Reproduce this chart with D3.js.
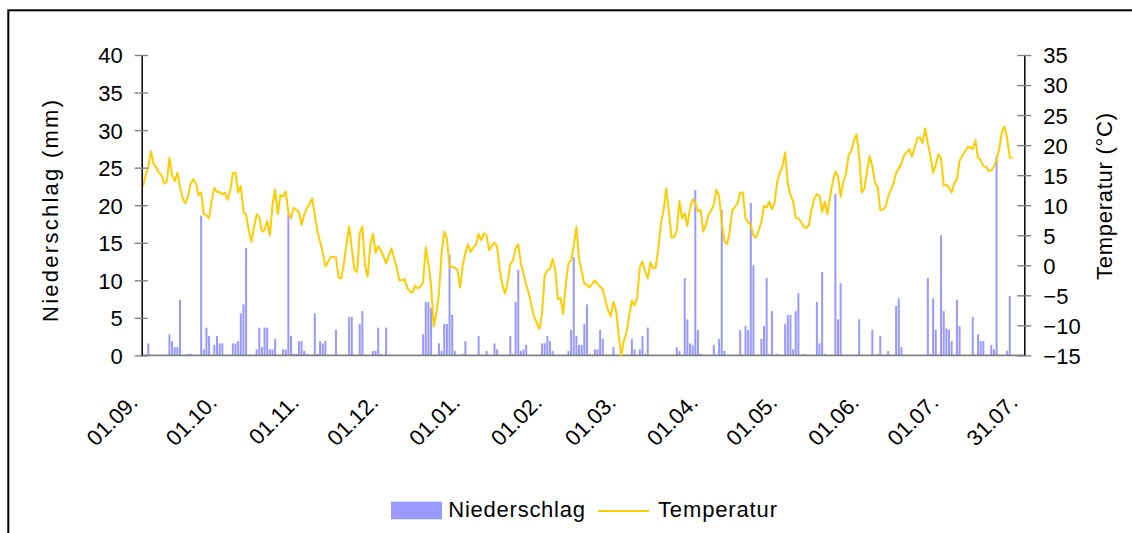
<!DOCTYPE html>
<html>
<head>
  <meta charset="utf-8">
  <script src="https://d3js.org/d3.v7.min.js"></script>
  <style type="text/css">
    body { margin: 0; background: #fff; }
    svg { font-family: "Liberation Sans", Arial, sans-serif; }
  </style>
</head>
<body>
<script type="text/javascript">
  "use strict";

  // daily precipitation (mm), one array per month, from 01.09.
  var rainSep = [0,0,1.6,0,0,0,0,0,0,0, 2.8,1.9,1.1,1.1,7.4,0,0,0.2,0.2,0, 0,0,18.6,0.8,3.7,2.6,0,1.4,2.6,1.6];
  var rainOct = [1.6,0,0,0,1.6,1.6,1.9,5.6,6.8,14.3, 0,0,0,0.8,3.7,1.1,3.7,3.7,0.8,0.8, 2.2,0,0,0.8,0.8,18.8,2.6,0.2,0.2,1.9, 1.9];
  var rainNov = [0.6,0.2,0,0,5.6,0.2,1.9,1.6,1.9, 0,0,0,3.4,0,0,0,0,5.1,5.1, 0,0,4.2,5.9,0,0,0,0.6,0.6,3.7, 0.2];
  var rainDec = [0,3.7,0,0,0,0,0,0,0, 0,0,0,0,0,0,2.8,7.1,7.1,6.3, 0,0,1.6,0.6,4.2,4.2,13.4,5.4,0.6,0, 0,0.2];
  var rainJan = [1.9,0,0,0,0,2.6,0,0, 0.6,0,0,1.6,0.8,0,0,0,0,2.6, 0.2,7.1,11.4,0.6,0.8,1.4,0,0,0,0, 0,1.6,1.6];
  var rainFeb = [2.6,1.9,0.6,0,0,0,0, 0,0.6,3.4,13.1,2.6,1.4,1.4,4.2,6.8,0.2, 0,0.8,0.8,3.4,2.2,0,0,0,1.1,0, 0];
  var rainMar = [0,0,0,0,2.2,0.8,0,0.8,2.6, 0.2,3.7,0,0,0,0,0,0,0,0, 0,0,1.1,0.6,0,10.3,4.8,1.6,1.4,22.0, 3.4,0.2];
  var rainApr = [0,0,0,0,1.4,0,2.2,19.4, 0.6,0,0,0,0,0,3.4,0,3.9,3.4, 20.3,12.0,0,0,2.2,3.9,10.3,0.2,5.9,0, 0.2,0];
  var rainMay = [0,4.2,5.4,5.4,0.8,5.9,8.3,0, 0.2,0,0,0,0,7.1,1.6,11.1,0.2,0, 0,0,21.5,4.8,9.6,0,0,0,0,0, 0,4.8,0];
  var rainJun = [0,0,0,3.4,0,0.2,2.6, 0,0,0.6,0,0,6.6,7.6,1.1,0,0, 0,0,0,0,0,0,0,10.3,0.2,7.6, 3.4,0,16.0];
  var rainJul = [5.9,3.6,3.4,1.9,0,7.4,3.9, 0,0,0,0,5.1,0,2.8,1.9,1.9,0, 0,1.4,0.8,26.6,0,0,0,0.6,7.9,0];

  // daily mean temperature (°C)
  var tempSep = [13.1,15.0,16.4,19.0,16.9,16.3,15.4,15.0,13.6,13.9, 17.9,15.0,14.0,15.4,13.0,11.2,10.3,11.4,13.6,14.3, 13.6,11.7,12.1,8.5,8.3,7.8,10.8,12.9,12.2,12.2];
  var tempOct = [11.8,12.1,10.9,12.4,15.4,15.4,12.1,13.2,8.9,8.4, 5.9,3.9,6.3,8.5,8.1,5.6,5.9,7.4,4.9,10.1, 12.6,8.5,11.7,11.4,12.3,8.8,7.8,9.6,9.2,8.9, 6.7];
  var tempNov = [8.4,9.5,10.2,11.1,8.4,5.6,3.9,2.2,-0.2, 0.6,1.4,1.4,1.3,-2.0,-2.2,0.2,3.6,6.5,2.8, -0.7,-1.1,5.3,6.5,0.0,-1.9,3.3,5.3,2.1,3.2, 2.5];
  var tempDec = [1.5,0.3,1.6,2.8,1.2,-0.4,-2.5,-2.5,-2.3, -3.8,-4.3,-4.6,-3.4,-3.9,-3.5,-2.8,3.0,0.3,-3.3, -10.2,-8.1,-4.7,2.2,5.6,4.4,-0.2,-0.3,-0.4,-0.8, -3.7,0.0];
  var tempJan = [2.1,3.5,2.2,3.0,3.4,5.2,4.2,5.3, 5.0,2.5,3.2,3.8,3.1,-0.8,-3.3,-4.7,-2.8,0.2, 0.8,2.8,3.5,0.3,-1.4,-3.2,-4.7,-6.7,-8.6,-9.6, -10.6,-8.1,-1.7];
  var tempFeb = [-0.8,-0.6,1.1,-0.8,-5.7,-5.4,-8.1, -3.1,0.4,0.8,3.3,6.4,1.1,-1.0,-3.1,-3.2,-3.7, -3.1,-2.5,-3.1,-3.6,-4.0,-5.9,-7.5,-8.5,-6.1,-7.5, -11.7];
  var tempMar = [-15.0,-12.5,-11.1,-8.3,-5.9,-6.7,-5.4,-0.3,0.6, -1.0,-2.2,0.5,-0.5,-0.4,2.8,7.0,9.2,12.8,9.0, 4.6,4.7,5.8,10.7,7.8,8.7,6.5,9.5,11.0,10.3, 9.0,9.2];
  var tempApr = [5.6,6.7,8.4,9.1,10.1,12.6,11.5,7.2, 4.0,3.5,5.5,9.2,9.7,10.3,12.1,12.1,7.8,7.2, 6.7,5.0,4.6,5.8,7.2,9.9,9.6,10.6,9.3,10.4, 13.9,15.4];
  var tempMay = [16.5,18.8,13.6,11.7,10.7,7.9,7.8,7.2, 6.4,6.2,6.7,9.3,11.1,11.8,11.6,8.9,10.6,8.5, 11.4,13.9,15.6,14.8,11.4,13.9,15.2,18.3,19.0,20.7, 21.8,18.3,12.1];
  var tempJun = [12.8,15.8,18.2,16.4,13.7,13.1,9.2, 9.3,9.7,11.5,12.5,13.6,15.4,16.1,16.9,18.3,18.8, 19.3,18.1,19.6,21.2,21.3,20.3,22.8,20.2,18.1,15.4, 16.7,18.5,17.8];
  var tempJul = [13.3,13.4,12.9,12.1,13.6,14.3,17.4, 18.2,18.9,19.6,19.7,19.3,20.8,17.9,17.5,16.5,16.4, 15.7,15.8,16.4,17.5,19.4,22.2,23.1,21.1,17.9,17.9];

  // category axis: 01.09. .. 31.07.
  var nDays = 334;
  var dayLabels = ["01.09.", "01.10.", "01.11.", "01.12.", "01.01.", "01.02.", "01.03.", "01.04.", "01.05.", "01.06.", "01.07.", "31.07."];
  var labelDays = [0, 30, 61, 91, 122, 153, 181, 212, 242, 273, 303, 333];
  var rainTicks = [0, 5, 10, 15, 20, 25, 30, 35, 40];
  var tempTicks = [-15, -10, -5, 0, 5, 10, 15, 20, 25, 30, 35];

  var rain = [].concat(rainSep, rainOct, rainNov, rainDec, rainJan, rainFeb, rainMar, rainApr, rainMay, rainJun, rainJul);
  var temp = [].concat(tempSep, tempOct, tempNov, tempDec, tempJan, tempFeb, tempMar, tempApr, tempMay, tempJun, tempJul);

  var width = 1132, height = 533;
  var plotL = 141.7, plotR = 1024.3, plotT = 55, plotB = 355.4;

  var svg = d3.select("body").append("svg")
      .attr("width", width)
      .attr("height", height);

  svg.append("rect")
      .attr("x", 0).attr("y", 0)
      .attr("width", width).attr("height", height)
      .attr("fill", "#fff");

  // chart area frame (runs off the right and bottom edge)
  svg.append("rect")
      .attr("x", 8.3).attr("y", 10.3)
      .attr("width", 1200).attr("height", 600)
      .attr("fill", "none")
      .attr("stroke", "#000")
      .attr("stroke-width", 2);

  var x = d3.scaleBand()
      .domain(d3.range(nDays))
      .range([plotL, plotR])
      .paddingInner(0.24)
      .paddingOuter(0.12);
  var bw = x.bandwidth();

  var yL = d3.scaleLinear().domain([0, 40]).range([plotB, plotT]);
  var yR = d3.scaleLinear().domain([-15, 35]).range([plotB, plotT]);

  // precipitation bars
  var rainPts = rain.map(function(v, i) { return {d: i, v: v}; })
      .filter(function(p) { return p.v > 0; });

  svg.append("g")
      .selectAll("rect")
      .data(rainPts)
      .join("rect")
        .attr("x", function(p) { return x(p.d); })
        .attr("width", bw)
        .attr("y", function(p) { return yL(p.v); })
        .attr("height", function(p) { return plotB - yL(p.v); })
        .attr("fill", "#9999ff");

  // category axis line
  svg.append("line")
      .attr("x1", plotL).attr("x2", plotR)
      .attr("y1", plotB).attr("y2", plotB)
      .attr("stroke", "#808080")
      .attr("stroke-width", 1.8);

  // temperature line
  var line = d3.line()
      .x(function(p) { return x(p.d) + bw / 2; })
      .y(function(p) { return yR(p.v); });

  svg.append("path")
      .datum(temp.map(function(v, i) { return {d: i, v: v}; }))
      .attr("d", line)
      .attr("fill", "none")
      .attr("stroke", "#ffcc00")
      .attr("stroke-width", 2)
      .attr("stroke-linejoin", "round");

  // left axis
  var gL = svg.append("g")
      .attr("transform", "translate(" + plotL + ",0)")
      .call(d3.axisLeft(yL).tickValues(rainTicks).tickSize(7).tickSizeOuter(0).tickPadding(12));

  // right axis
  var gR = svg.append("g")
      .attr("transform", "translate(" + plotR + ",0)")
      .call(d3.axisRight(yR).tickValues(tempTicks).tickSize(7).tickSizeOuter(0).tickPadding(12));

  gL.selectAll(".tick line").attr("x1", 6);
  gR.selectAll(".tick line").attr("x1", -7);

  [gL, gR].forEach(function(g) {
    g.attr("font-family", null).attr("font-size", 22);
    g.select(".domain").attr("stroke", "#000").attr("stroke-width", 1.5);
    g.selectAll(".tick line").attr("stroke", "#808080").attr("stroke-width", 1.4);
    g.selectAll(".tick text").attr("fill", "#000").attr("dy", "0.36em");
  });

  // date labels, rotated
  svg.append("g")
      .selectAll("text")
      .data(labelDays)
      .join("text")
        .attr("transform", function(d, i) {
          return "translate(" + (x(d) + bw / 2 - 4) + ",404) rotate(-45)";
        })
        .attr("text-anchor", "end")
        .attr("font-size", 22)
        .text(function(d, i) { return dayLabels[i]; });

  // axis titles
  svg.append("text")
      .attr("transform", "translate(58,211) rotate(-90)")
      .attr("text-anchor", "middle")
      .attr("font-size", 22)
      .attr("textLength", 222)
      .attr("lengthAdjust", "spacing")
      .text("Niederschlag (mm)");

  svg.append("text")
      .attr("transform", "translate(1112,196.5) rotate(-90)")
      .attr("text-anchor", "middle")
      .attr("font-size", 22)
      .attr("textLength", 167)
      .attr("lengthAdjust", "spacing")
      .text("Temperatur (°C)");

  // legend
  var leg = svg.append("g");
  leg.append("rect")
      .attr("x", 391).attr("y", 501.7)
      .attr("width", 51).attr("height", 17.6)
      .attr("fill", "#9999ff");
  leg.append("text")
      .attr("x", 448.3).attr("y", 516.7)
      .attr("font-size", 22)
      .attr("textLength", 136.7)
      .attr("lengthAdjust", "spacing")
      .text("Niederschlag");
  leg.append("line")
      .attr("x1", 598).attr("x2", 649)
      .attr("y1", 511).attr("y2", 511)
      .attr("stroke", "#ffcc00")
      .attr("stroke-width", 2);
  leg.append("text")
      .attr("x", 658).attr("y", 516.7)
      .attr("font-size", 22)
      .attr("textLength", 119)
      .attr("lengthAdjust", "spacing")
      .text("Temperatur");
</script>
</body>
</html>
